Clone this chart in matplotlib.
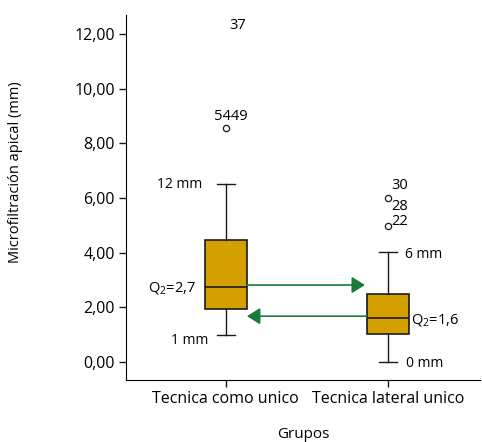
import matplotlib
matplotlib.use("Agg")
import matplotlib.pyplot as plt

plt.rcParams['font.family'] = ['Open Sans', 'DejaVu Sans']
plt.rcParams['mathtext.default'] = 'regular'

# datos de las cajas
grupos = ["Tecnica como unico", "Tecnica lateral unico"]
q1 = [1.95, 1.03]
mediana = [2.75, 1.61]
q3 = [4.48, 2.49]
bigote_inf = [0.99, 0.01]
bigote_sup = [6.5, 4.03]
atipicos = [[8.57], [6.02, 4.99]]

# etiquetas de casos atipicos
casos = ["37", "5449", "30", "28", "22"]
casos_x = [1.07, 1.03, 2.07, 2.07, 2.07]
casos_y = [12.3, 9.0, 6.45, 5.68, 5.16]

yticks = [0, 2, 4, 6, 8, 10, 12]
ytick_labels = ["0,00", "2,00", "4,00", "6,00", "8,00", "10,00", "12,00"]

fig = plt.figure(figsize=(4.82, 4.42), dpi=100)
ax = fig.add_axes([0.261, 0.140, 0.735, 0.826])

stats = []
for i in range(2):
    stats.append(dict(q1=q1[i], med=mediana[i], q3=q3[i],
                      whislo=bigote_inf[i], whishi=bigote_sup[i],
                      fliers=atipicos[i]))

ax.bxp(stats, positions=[1, 2], widths=0.26, capwidths=0.11, patch_artist=True,
       boxprops=dict(facecolor="#d4a000", edgecolor="#1a1a1a", linewidth=1.2),
       medianprops=dict(color="#1a1a1a", linewidth=1.2),
       whiskerprops=dict(color="#1a1a1a", linewidth=1.0),
       capprops=dict(color="#1a1a1a", linewidth=1.0),
       flierprops=dict(marker="o", markersize=4.5, markerfacecolor="white",
                       markeredgecolor="#1a1a1a", markeredgewidth=0.9))

for t, x, y in zip(casos, casos_x, casos_y):
    ax.text(x, y, t, ha="center", va="center", fontsize=10.5)

# anotaciones
ax.text(0.852, bigote_sup[0], "12 mm", ha="right", va="center", fontsize=10)
ax.text(0.895, 0.8, "1 mm", ha="right", va="center", fontsize=10)
ax.text(0.815, 2.7, "Q$_2$=2,7", ha="right", va="center", fontsize=10.5)
ax.text(2.105, 3.92, "6 mm", ha="left", va="center", fontsize=10)
ax.text(2.14, 1.54, "Q$_2$=1,6", ha="left", va="center", fontsize=10.5)
ax.text(2.11, -0.04, "0 mm", ha="left", va="center", fontsize=10)

# flechas
verde = "#1b7a3a"
ax.annotate("", xy=(1.858, 2.82), xytext=(1.13, 2.82),
            arrowprops=dict(arrowstyle="-|>,head_length=0.8,head_width=0.5",
                            color=verde, lw=1.2, shrinkA=0, shrinkB=0), fontsize=10)
ax.annotate("", xy=(1.13, 1.68), xytext=(1.87, 1.68),
            arrowprops=dict(arrowstyle="-|>,head_length=0.8,head_width=0.5",
                            color=verde, lw=1.2, shrinkA=0, shrinkB=0), fontsize=10)

ax.set_xlim(0.383, 2.568)
ax.set_ylim(-0.66, 12.7)
ax.set_xticks([1, 2])
ax.set_xticklabels(grupos, fontsize=11.5)
ax.set_yticks(yticks)
ax.set_yticklabels(ytick_labels, fontsize=11.5)
ax.tick_params(length=5, width=1, color="#1a1a1a", pad=3)
ax.spines["top"].set_visible(False)
ax.spines["right"].set_visible(False)
ax.set_xlabel("Grupos", fontsize=11, labelpad=14)
ax.set_ylabel("Microfiltración apical (mm)", fontsize=10.5)
ax.yaxis.set_label_coords(-0.29, 0.57)

fig.savefig("out.png", dpi=100)
